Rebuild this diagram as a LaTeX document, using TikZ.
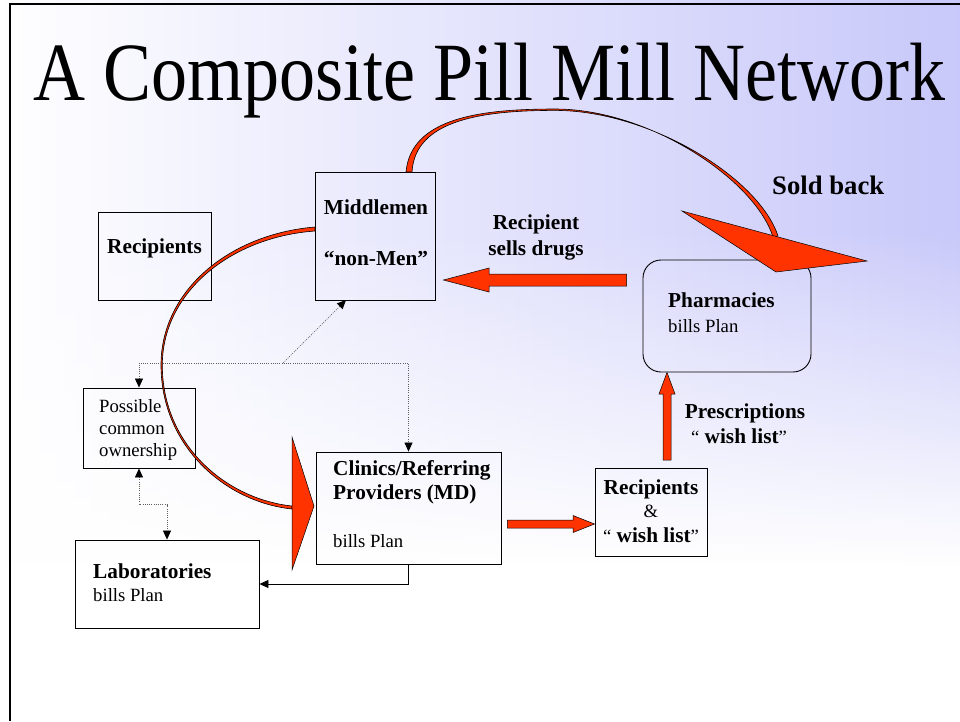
\documentclass[tikz,border=0pt]{standalone}
\usepackage{fontspec}
\setmainfont{Liberation Serif}
\usetikzlibrary{arrows.meta,fadings,calc}
\definecolor{pillred}{HTML}{FF3300}
\definecolor{lav}{HTML}{C8C8FA}
\definecolor{dotgray}{HTML}{606060}

\begin{document}
\begin{tikzpicture}[x=1pt,y=-1pt,
  box/.style={draw=black, line width=0.9pt, inner sep=0pt, minimum width=#1},
  boldtxt/.style={inner sep=0pt, font=\fontsize{21.3}{25}\selectfont\bfseries},
  regtxt/.style={inner sep=0pt, font=\fontsize{18.7}{22}\selectfont},
  blockarrow/.style={fill=pillred, draw=black, line width=0.5pt, line join=miter},
  ribbon/.style={fill=pillred, draw=black, line width=0.6pt},
  tip/.style={Triangle[width=8pt,length=9pt,color=black]},
  dotconn/.style={draw=dotgray, line width=0.7pt, dash pattern=on 0.9pt off 1.3pt,
    {Triangle[width=8pt,length=9pt,color=black]}-{Triangle[width=8pt,length=9pt,color=black]}},
  dotone/.style={draw=dotgray, line width=0.7pt, dash pattern=on 0.9pt off 1.3pt,
    -{Triangle[width=8pt,length=9pt,color=black]}},
  solidconn/.style={draw=black, line width=0.9pt, -{Triangle[width=8pt,length=9pt]}}
]
\useasboundingbox (0,0) rectangle (960,721);

% slide background: white to lavender, fading to white lower down
\shade[left color=white, right color=lav] (-5,-5) rectangle (965,726);
\fill[white, path fading=north] (-5,230) rectangle (965,566);
\fill[white] (-5,565) rectangle (965,726);

% slide frame
\draw[line width=2pt] (10,721) -- (10,4) -- (960,4);

% title
\node[anchor=base west, inner sep=0pt, font=\fontsize{72}{72}\selectfont] (title) at (33,100)
  {\scalebox{1}[1.15]{A Composite Pill Mill Network}};

% boxes
\node[box=113pt, minimum height=88pt] (rec1) at (154.5,256) {};
\node[box=120pt, minimum height=128pt] (mid) at (375,236) {};
\node[box=112pt, minimum height=80pt] (pos) at (139,428) {};
\node[box=185pt, minimum height=112pt] (cli) at (408.5,508) {};
\node[box=184pt, minimum height=88pt] (lab) at (167,584) {};
\node[box=112pt, minimum height=88pt] (recw) at (651,512) {};
\node[box=168pt, minimum height=112pt, rounded corners=18pt] (pha) at (727,316) {};

% box texts
\node[boldtxt, anchor=base] (rec1t) at (154.5,253) {Recipients};
\node[boldtxt, anchor=base] (midt1) at (376,214) {Middlemen};
\node[boldtxt, anchor=base] (midt2) at (376,265) {“non-Men”};
\node[regtxt, anchor=base west] (post1) at (99,412) {Possible};
\node[regtxt, anchor=base west] (post2) at (99,434) {common};
\node[regtxt, anchor=base west] (post3) at (99,456) {ownership};
\node[boldtxt, anchor=base west] (clit1) at (333,475) {Clinics/Referring};
\node[boldtxt, anchor=base west] (clit2) at (333,499) {Providers (MD)};
\node[regtxt, anchor=base west] (clit3) at (333,547) {bills Plan};
\node[boldtxt, anchor=base west] (labt1) at (93,578) {Laboratories};
\node[regtxt, anchor=base west] (labt2) at (93,601) {bills Plan};
\node[boldtxt, anchor=base] (recwt1) at (651,494) {Recipients};
\node[regtxt, anchor=base] (recwt2) at (651,517) {\&};
\node[boldtxt, anchor=base] (recwt3) at (651,542) {{\mdseries\fontsize{18.7}{22}\selectfont “} wish list{\mdseries\fontsize{18.7}{22}\selectfont ”}};
\node[boldtxt, anchor=base west] (phat1) at (668,307) {Pharmacies};
\node[regtxt, anchor=base west] (phat2) at (668,332) {bills Plan};

% free labels
\node[boldtxt, anchor=base] (sells1) at (536,229) {Recipient};
\node[boldtxt, anchor=base] (sells2) at (536,255) {sells drugs};
\node[boldtxt, anchor=base west, font=\fontsize{26.7}{30}\selectfont\bfseries] (sold) at (772,194) {Sold back};
\node[boldtxt, anchor=base] (presc1) at (745,418) {Prescriptions};
\node[boldtxt, anchor=base] (presc2) at (739,443) {{\mdseries\fontsize{18.7}{22}\selectfont “} wish list{\mdseries\fontsize{18.7}{22}\selectfont ”}};

% dotted ownership links
\coordinate (j) at (283,363);
\draw[dotone] (j) -- (346,300);
\draw[dotconn] (pos.north) |- (j) -| (cli.north);
\draw[dotconn] (pos.south) |- ($(lab.north)+(0,-35)$) -- (lab.north);

% referral to laboratories
\draw[solidconn] (cli.south -| 408,0) |- (lab.east);

% block arrows
\filldraw[blockarrow] ($(pha.west)+(-16,-42)$) -- (489,274) -- (489,268) -- ($(mid.east)+(8,44)$)
  -- (489,292) -- (489,286) -- ($(pha.west)+(-16,-30)$) -- cycle;
\filldraw[blockarrow] ($(cli.east)+(6,12)$) -- (573,520) -- (573,515.5) -- ($(recw.west)+(0,12)$)
  -- (573,532.5) -- (573,528) -- ($(cli.east)+(6,20)$) -- cycle;
\filldraw[blockarrow] (663,460) -- (663,394) -- (659,394) -- (pha.south -| 667,0)
  -- (675,394) -- (671,394) -- (671,460) -- cycle;

% "sold back" curved arrow from the middlemen to the pharmacies
\filldraw[ribbon] (406,172) .. controls (411,118) and (480,109) .. (555,109)
  .. controls (650,109) and (755,180) .. (773,237)
  -- (778,236) .. controls (759,178) and (650,110.4) .. (555,110.4)
  .. controls (482,110.4) and (415,120) .. (412,172) -- cycle;
\filldraw[blockarrow] (682,211) -- (867,261) -- (776,272) -- cycle;

% curved arrow from the middlemen to the clinics
\filldraw[ribbon] (315,227) .. controls (230,234) and (161,290) .. (161,365)
  .. controls (161,446) and (225,502) .. (292,509)
  -- (292,506) .. controls (226,499) and (162.3,445) .. (162.3,365)
  .. controls (162.5,292) and (231,237) .. (315,231) -- cycle;
\filldraw[blockarrow] (292,437) -- (314,506) -- (292,570) -- cycle;
\end{tikzpicture}
\end{document}
